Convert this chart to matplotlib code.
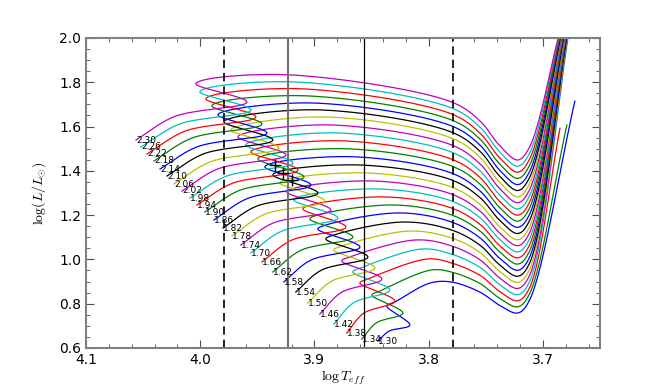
import numpy as np
import matplotlib
matplotlib.use("Agg")
import matplotlib.pyplot as plt
from matplotlib.ticker import MultipleLocator, FormatStrFormatter

plt.rcParams['mathtext.fontset'] = 'cm'

# ---------------- data ----------------
masses = [1.30, 1.34, 1.38, 1.42, 1.46, 1.50, 1.54, 1.58, 1.62, 1.66, 1.70, 1.74, 1.78,
          1.82, 1.86, 1.90, 1.94, 1.98, 2.02, 2.06, 2.10, 2.14, 2.18, 2.22, 2.26, 2.30]

# zero-age main sequence point (track start)
zams_T = [3.8445, 3.8585, 3.8717, 3.8830, 3.8953, 3.9058, 3.9163, 3.9268, 3.9364, 3.9460,
          3.9556, 3.9644, 3.9722, 3.9801, 3.9880, 3.9959, 4.0029, 4.0090, 4.0160, 4.0230,
          4.0291, 4.0352, 4.0405, 4.0466, 4.0519, 4.0562]
zams_L = [0.6315, 0.6405, 0.6676, 0.7082, 0.7534, 0.8031, 0.8528, 0.8979, 0.9431, 0.9883,
          1.0289, 1.0650, 1.1057, 1.1418, 1.1780, 1.2141, 1.2457, 1.2773, 1.3090, 1.3406,
          1.3767, 1.4083, 1.4445, 1.4761, 1.5077, 1.5393]
# a point midway along the main sequence
ms_T = [3.8347, 3.8459, 3.8569, 3.8659, 3.8763, 3.8852, 3.8942, 3.9035, 3.9119, 3.9203,
        3.9290, 3.9368, 3.9437, 3.9510, 3.9583, 3.9655, 3.9719, 3.9775, 3.9841, 3.9908,
        3.9967, 4.0024, 4.0074, 4.0132, 4.0182, 4.0222]
ms_L = [0.6762, 0.7132, 0.7570, 0.8035, 0.8514, 0.9011, 0.9508, 0.9959, 1.0411, 1.0863,
        1.1269, 1.1631, 1.2037, 1.2398, 1.2760, 1.3121, 1.3437, 1.3754, 1.4097, 1.4413,
        1.4774, 1.5090, 1.5479, 1.5795, 1.6111, 1.6459]
# terminal main sequence (coolest point before the hook)
tams_T = [3.8165, 3.8226, 3.8296, 3.8340, 3.8410, 3.8471, 3.8532, 3.8602, 3.8664, 3.8725,
          3.8795, 3.8856, 3.8909, 3.8970, 3.9031, 3.9092, 3.9145, 3.9189, 3.9250, 3.9311,
          3.9364, 3.9416, 3.9460, 3.9513, 3.9556, 3.9591]
tams_L = [0.7037, 0.7579, 0.8121, 0.8618, 0.9115, 0.9612, 1.0108, 1.0560, 1.1012, 1.1463,
          1.1870, 1.2231, 1.2638, 1.2999, 1.3361, 1.3722, 1.4038, 1.4354, 1.4716, 1.5032,
          1.5393, 1.5709, 1.6116, 1.6432, 1.6748, 1.7109]
# hook (hottest point after the main sequence)
hook_T = [3.8366, 3.8497, 3.8602, 3.8664, 3.8760, 3.8830, 3.8900, 3.8970, 3.9040, 3.9101,
          3.9180, 3.9241, 3.9302, 3.9364, 3.9434, 3.9495, 3.9556, 3.9600, 3.9670, 3.9731,
          3.9793, 3.9845, 3.9898, 3.9950, 4.0003, 4.0038]
hook_L = [0.7895, 0.8392, 0.8934, 0.9431, 0.9928, 1.0425, 1.0922, 1.1373, 1.1825, 1.2277,
          1.2683, 1.3044, 1.3451, 1.3812, 1.4174, 1.4535, 1.4851, 1.5167, 1.5529, 1.5845,
          1.6206, 1.6522, 1.6929, 1.7245, 1.7561, 1.7922]
# start of the Hertzsprung-gap crossing
turn_T = [3.8296, 3.8427, 3.8532, 3.8594, 3.8690, 3.8760, 3.8830, 3.8900, 3.8970, 3.9031,
          3.9110, 3.9171, 3.9232, 3.9294, 3.9364, 3.9425, 3.9486, 3.9530, 3.9600, 3.9661,
          3.9723, 3.9775, 3.9828, 3.9880, 3.9933, 3.9968]
turn_L = [0.8076, 0.8573, 0.9115, 0.9612, 1.0109, 1.0606, 1.1103, 1.1554, 1.2006, 1.2458,
          1.2864, 1.3225, 1.3632, 1.3993, 1.4355, 1.4716, 1.5032, 1.5348, 1.5710, 1.6026,
          1.6387, 1.6703, 1.7110, 1.7426, 1.7742, 1.8103]
# top of the gap crossing
peak_T = [3.799, 3.798, 3.801, 3.806, 3.811, 3.817, 3.822, 3.826, 3.831, 3.837, 3.842, 3.847,
          3.852, 3.858, 3.863, 3.868, 3.873, 3.879, 3.884, 3.888, 3.894, 3.899, 3.904, 3.909,
          3.915, 3.920]
peak_L = [0.893, 0.952, 1.002, 1.047, 1.088, 1.128, 1.169, 1.210, 1.246, 1.282, 1.318, 1.354,
          1.390, 1.426, 1.463, 1.499, 1.535, 1.571, 1.607, 1.643, 1.675, 1.706, 1.738, 1.770,
          1.801, 1.833]
# luminosity at fixed temperatures on the way down to the giant-branch base
gap_T = [3.780, 3.755, 3.738, 3.722, 3.712]
L_3780 = [0.898, 0.943, 0.984, 1.024, 1.061, 1.097, 1.133, 1.169, 1.201, 1.232, 1.264, 1.295,
          1.327, 1.359, 1.390, 1.422, 1.453, 1.485, 1.517, 1.548, 1.575, 1.603, 1.630, 1.657,
          1.684, 1.711]
L_3755 = [0.852, 0.891, 0.928, 0.964, 0.998, 1.031, 1.064, 1.097, 1.128, 1.158, 1.188, 1.218,
          1.248, 1.279, 1.309, 1.340, 1.370, 1.400, 1.431, 1.461, 1.488, 1.516, 1.543, 1.570,
          1.597, 1.625]
L_3738 = [0.793, 0.825, 0.856, 0.887, 0.917, 0.946, 0.976, 1.006, 1.035, 1.063, 1.092, 1.120,
          1.149, 1.178, 1.206, 1.235, 1.263, 1.292, 1.321, 1.349, 1.377, 1.404, 1.432, 1.460,
          1.487, 1.515]
L_min = [0.758, 0.786, 0.813, 0.841, 0.869, 0.896, 0.924, 0.951, 0.979, 1.007, 1.034, 1.062,
         1.089, 1.117, 1.145, 1.173, 1.200, 1.228, 1.256, 1.283, 1.311, 1.338, 1.366, 1.394,
         1.421, 1.449]
L_3712 = [0.813, 0.841, 0.868, 0.896, 0.924, 0.951, 0.979, 1.006, 1.034, 1.062, 1.089, 1.117,
          1.144, 1.172, 1.200, 1.228, 1.255, 1.283, 1.311, 1.338, 1.366, 1.393, 1.421, 1.449,
          1.476, 1.504]
# last point of each track on the red giant branch
end_T = [3.672, 3.679, 3.685, 3.6768, 3.6772, 3.6775, 3.6779, 3.6782, 3.6786, 3.6790,
         3.6793, 3.6797, 3.6800, 3.6804, 3.6808, 3.6811, 3.6815, 3.6818, 3.6822, 3.6826,
         3.6829, 3.6833, 3.6836, 3.6840, 3.6844, 3.6847]
end_L = [1.715, 1.607, 1.593] + [2.04] * 23

# reference lines and markers
vline_dashed = [3.9792, 3.7789]
vline_gray = [3.9232]
vline_black = [3.8567]
cross_T = [3.9346, 3.9276, 3.9198]
cross_L = [1.4264, 1.3902, 1.3587]

colors = [(0, 0, 1), (0, 0.5, 0), (1, 0, 0), (0, 0.75, 0.75),
          (0.75, 0, 0.75), (0.75, 0.75, 0), (0, 0, 0)]

# ---------------- smoothing (centripetal Catmull-Rom) ----------------
SX, SY = 1143.0, 221.4


def smooth(T, L, n=30):
    P = np.column_stack([np.asarray(T, float) * SX, np.asarray(L, float) * SY])
    P = np.vstack([2 * P[0] - P[1], P, 2 * P[-1] - P[-2]])
    out = []
    for k in range(1, len(P) - 2):
        p0, p1, p2, p3 = P[k - 1], P[k], P[k + 1], P[k + 2]
        d01 = max(np.hypot(*(p1 - p0)), 1e-6) ** 0.5
        d12 = max(np.hypot(*(p2 - p1)), 1e-6) ** 0.5
        d23 = max(np.hypot(*(p3 - p2)), 1e-6) ** 0.5
        t0, t1 = 0.0, d01
        t2 = t1 + d12
        t3 = t2 + d23
        t = np.linspace(t1, t2, n)[:, None]
        A1 = (t1 - t) / (t1 - t0) * p0 + (t - t0) / (t1 - t0) * p1
        A2 = (t2 - t) / (t2 - t1) * p1 + (t - t1) / (t2 - t1) * p2
        A3 = (t3 - t) / (t3 - t2) * p2 + (t - t2) / (t3 - t2) * p3
        B1 = (t2 - t) / (t2 - t0) * A1 + (t - t0) / (t2 - t0) * A2
        B2 = (t3 - t) / (t3 - t1) * A2 + (t - t1) / (t3 - t1) * A3
        C = (t2 - t) / (t2 - t1) * B1 + (t - t1) / (t2 - t1) * B2
        out.append(C if k == 1 else C[1:])
    C = np.vstack(out)
    return C[:, 0] / SX, C[:, 1] / SY


# ---------------- figure ----------------
fig = plt.figure(figsize=(6.64, 3.88), dpi=100)
ax = fig.add_axes([0.1295, 0.1031, 0.7741, 0.7990])

for i, m in enumerate(masses):
    T = [zams_T[i], ms_T[i], tams_T[i], hook_T[i], turn_T[i], peak_T[i]] + gap_T + [end_T[i]]
    L = [zams_L[i], ms_L[i], tams_L[i], hook_L[i], turn_L[i], peak_L[i],
         L_3780[i], L_3755[i], L_3738[i], L_min[i], L_3712[i], end_L[i]]
    xs, ys = smooth(T, L)
    ax.plot(xs, ys, color=colors[i % 7], lw=0.9)
    ax.text(zams_T[i], zams_L[i], '%.2f' % m, fontsize=6.5, ha='left', va='center',
            color='black')

for v in vline_dashed:
    ax.axvline(v, color='black', lw=1.2, ls=(0, (5, 3)))
for v in vline_gray:
    ax.axvline(v, color='0.45', lw=1.5)
for v in vline_black:
    ax.axvline(v, color='black', lw=0.9)
ax.plot(cross_T, cross_L, ls='none', marker='+', ms=8, mew=1.0, color='black')

ax.set_xlim(4.1, 3.65)
ax.set_ylim(0.6, 2.0)
ax.set_xticks([4.1, 4.0, 3.9, 3.8, 3.7])
ax.set_yticks([0.6, 0.8, 1.0, 1.2, 1.4, 1.6, 1.8, 2.0])
ax.xaxis.set_major_formatter(FormatStrFormatter('%.1f'))
ax.yaxis.set_major_formatter(FormatStrFormatter('%.1f'))
ax.xaxis.set_minor_locator(MultipleLocator(0.02))
ax.yaxis.set_minor_locator(MultipleLocator(0.05))
ax.tick_params(which='both', direction='in', top=True, right=True, color='0.3',
               labelsize=10)
ax.tick_params(which='major', length=6, width=0.8)
ax.tick_params(which='minor', length=3, width=0.6)
for s in ax.spines.values():
    s.set_color('0.5')
    s.set_linewidth(1.5)

ax.set_xlabel(r'$\log T_{eff}$', fontsize=10, labelpad=1)
ax.set_ylabel(r'$\log(L/L_{\odot})$', fontsize=10, labelpad=8)

fig.savefig('out.png', dpi=100)
